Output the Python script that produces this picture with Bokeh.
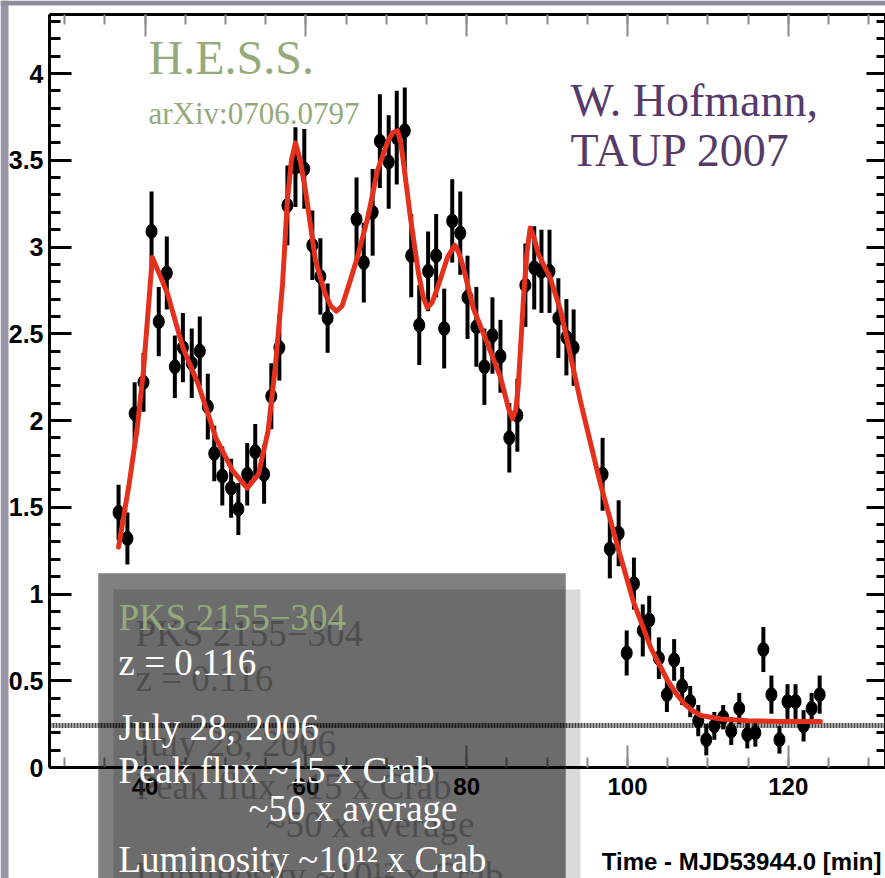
from bokeh.plotting import figure
from bokeh.models import (Range1d, LinearAxis, SingleIntervalTicker, BoxAnnotation, Label,
                          CustomJSTickFormatter, ColumnDataSource)
from bokeh.embed import file_html
from bokeh.resources import INLINE

# ---------------- data ----------------
time_min = [36.7, 37.8, 38.7, 39.8, 40.8, 41.7, 42.7, 43.7, 44.7, 45.8, 46.8, 47.8, 48.6,
            49.6, 50.7, 51.6, 52.7, 53.7, 54.8, 55.7, 56.7, 57.7, 58.7, 59.8, 60.8, 61.8, 62.7,
            66.3, 67.2, 68.3, 69.2, 70.3, 71.3, 72.3, 73.1, 74.1, 75.2, 76.2, 77.2, 78.2, 79.2,
            80.1, 81.2, 82.2, 83.2, 84.2, 85.3, 86.3, 87.3, 88.4, 89.3, 90.3, 91.4, 92.4, 93.3,
            96.9, 97.8, 98.9, 99.9, 100.8, 101.9, 102.7, 103.9, 104.9, 105.8, 106.8, 107.8,
            108.8, 109.8, 110.8, 111.9, 112.9, 113.9, 114.9, 115.9, 116.9, 117.9, 118.9, 119.9,
            120.9, 121.9, 122.9, 123.9]
flux = [1.47, 1.32, 2.04, 2.22, 3.09, 2.57, 2.85, 2.31, 2.42, 2.33, 2.40, 2.08, 1.81,
        1.68, 1.61, 1.49, 1.69, 1.82, 1.69, 2.14, 2.42, 3.24, 3.46, 3.45, 3.01, 2.83, 2.59,
        3.16, 2.91, 3.20, 3.61, 3.49, 3.63, 3.67, 2.95, 2.55, 2.86, 2.95, 2.53, 3.15, 3.08,
        2.71, 2.54, 2.31, 2.49, 2.37, 1.90, 2.03, 2.78, 2.88, 2.86, 2.86, 2.59, 2.48, 2.42,
        1.69, 1.26, 1.35, 0.66, 1.06, 0.79, 0.85, 0.63, 0.42, 0.62, 0.47, 0.38,
        0.27, 0.16, 0.24, 0.29, 0.21, 0.34, 0.19, 0.20, 0.68, 0.42, 0.16, 0.38,
        0.38, 0.24, 0.34, 0.42]
flux_err = [0.16, 0.15, 0.18, 0.17, 0.23, 0.20, 0.21, 0.18, 0.20, 0.20, 0.20, 0.19, 0.16,
            0.17, 0.17, 0.15, 0.18, 0.16, 0.17, 0.19, 0.19, 0.23, 0.23, 0.23, 0.20, 0.22, 0.20,
            0.24, 0.23, 0.25, 0.27, 0.27, 0.27, 0.25, 0.24, 0.23, 0.23, 0.24, 0.23, 0.24, 0.24,
            0.24, 0.23, 0.22, 0.22, 0.21, 0.20, 0.21, 0.24, 0.24, 0.24, 0.24, 0.23, 0.22, 0.22,
            0.21, 0.17, 0.19, 0.13, 0.15, 0.15, 0.14, 0.12, 0.10, 0.12, 0.11, 0.09,
            0.09, 0.09, 0.08, 0.07, 0.08, 0.09, 0.08, 0.08, 0.13, 0.11, 0.08, 0.10,
            0.10, 0.09, 0.09, 0.11]

# fitted model curve
fit_t = [36.7, 38.0, 39.0, 39.8, 40.9, 42.0, 42.8, 44.7, 46.6, 48.8, 50.9, 52.7, 54.1, 55.3,
         56.2, 57.1, 57.7, 58.2, 58.7, 59.3, 60.0, 61.2, 62.4, 63.1, 63.8, 64.5, 65.2, 66.4,
         67.7, 68.9, 70.2, 70.8, 71.4, 71.8, 72.1, 73.0, 74.0, 74.6, 75.1, 75.7, 76.4, 77.6,
         78.5, 79.0, 79.6, 80.8, 82.6, 84.2, 85.2, 85.7, 86.1, 86.4, 87.1, 87.5, 87.9, 88.4,
         88.9, 90.4, 91.7, 94.2, 96.6, 98.8, 100.7, 102.9, 105.0, 106.0, 107.0, 108.0, 109.1,
         111.6, 114.9, 119.0, 124.0]
fit_flux = [1.27, 1.63, 1.95, 2.29, 2.94, 2.82, 2.73, 2.42, 2.21, 1.90, 1.71, 1.61, 1.69, 1.94,
            2.31, 2.79, 3.27, 3.50, 3.60, 3.50, 3.31, 2.92, 2.73, 2.66, 2.63, 2.66, 2.76, 2.94,
            3.17, 3.44, 3.61, 3.66, 3.67, 3.60, 3.50, 3.17, 2.85, 2.71, 2.65, 2.68, 2.77, 2.94,
            3.01, 2.97, 2.88, 2.65, 2.44, 2.25, 2.07, 2.01, 2.06, 2.19, 2.73, 2.97, 3.11, 3.05,
            2.96, 2.82, 2.63, 2.10, 1.64, 1.27, 0.96, 0.69, 0.50, 0.43, 0.37, 0.33, 0.30,
            0.28, 0.27, 0.265, 0.265]

baseline_flux = 0.242
x_ticks_major = 20
y_ticks_major = 0.5

title_lines = ["H.E.S.S.", "arXiv:0706.0797"]
credit_lines = ["W. Hofmann,", "TAUP 2007"]
box_lines = ["PKS 2155\u2212304", "z = 0.116", "July 28, 2006", "Peak flux ~15 x Crab",
             "~50 x average", "Luminosity ~10\u00b9\u00b2 x Crab"]
x_title = "Time - MJD53944.0 [min]"

# ---------------- layout helpers (window pixel -> data) ----------------
def X(px):
    return 100 + (px - 627) / 8.04

def Y(py):
    return (767 - py) / 173.5

W, H = 885, 878
# axes box of the original chart
AX_L, AX_R = X(49), X(885)
AX_B, AX_T = 0.0, Y(14)

p = figure(width=W, height=H, output_backend="svg", toolbar_location=None,
           x_range=Range1d(X(0), X(W)), y_range=Range1d(Y(H), Y(0)),
           min_border=0, min_border_left=0, min_border_right=0,
           min_border_top=0, min_border_bottom=0)
p.grid.visible = False
p.outline_line_color = None
p.background_fill_color = "white"
p.border_fill_color = "white"

AX_FONT = "Liberation Sans"

# slide background strips (left and top)
p.add_layout(BoxAnnotation(left=X(0), right=X(8), top=Y(0), bottom=Y(H),
                           fill_color="#9896a6", fill_alpha=1, line_color=None,
                           level="underlay"))
p.add_layout(BoxAnnotation(left=X(0), right=X(W), top=Y(0), bottom=Y(5),
                           fill_color="#8f8d9c", fill_alpha=1, line_color=None,
                           level="underlay"))

# bottom axis drawn at flux = 0
xax = p.xaxis[0]
xax.fixed_location = AX_B
xax.bounds = (AX_L, AX_R)
xax.ticker = SingleIntervalTicker(interval=x_ticks_major, num_minor_ticks=4)
xax.axis_line_width = 3
xax.axis_line_color = "black"
xax.major_tick_in = 22
xax.major_tick_out = 0
xax.minor_tick_in = 10
xax.minor_tick_out = 0
xax.major_tick_line_color = "#8a8a8a"
xax.minor_tick_line_color = "#8a8a8a"
xax.major_tick_line_width = 2
xax.minor_tick_line_width = 2
xax.major_label_text_font = AX_FONT
xax.major_label_text_font_style = "bold"
xax.major_label_text_font_size = "24px"
xax.major_label_text_color = "black"
xax.major_label_standoff = 10

yax = p.yaxis[0]
yax.fixed_location = AX_L
yax.bounds = (AX_B, AX_T)
yax.ticker = SingleIntervalTicker(interval=y_ticks_major, num_minor_ticks=5)
yax.formatter = CustomJSTickFormatter(code="return String(Math.round(tick*10)/10)")
yax.axis_line_width = 3
yax.axis_line_color = "black"
yax.major_tick_in = 22
yax.major_tick_out = 0
yax.minor_tick_in = 11
yax.minor_tick_out = 0
yax.major_tick_line_width = 3
yax.minor_tick_line_width = 3
yax.major_tick_line_color = "black"
yax.minor_tick_line_color = "black"
yax.major_label_text_font = AX_FONT
yax.major_label_text_font_style = "bold"
yax.major_label_text_font_size = "25px"
yax.major_label_text_color = "black"
yax.major_label_text_baseline = "top"
yax.major_label_standoff = 6

empty = CustomJSTickFormatter(code="return ''")
top = LinearAxis(fixed_location=AX_T, bounds=(AX_L, AX_R),
                 ticker=SingleIntervalTicker(interval=x_ticks_major, num_minor_ticks=4),
                 formatter=empty, major_label_text_font_size="1px", major_label_standoff=0,
                 axis_line_width=3, axis_line_color="black",
                 major_tick_in=22, major_tick_out=0, minor_tick_in=10, minor_tick_out=0,
                 major_tick_line_color="#8a8a8a", minor_tick_line_color="#8a8a8a",
                 major_tick_line_width=2, minor_tick_line_width=2)
p.add_layout(top, "above")
right = LinearAxis(fixed_location=AX_R, bounds=(AX_B, AX_T),
                   ticker=SingleIntervalTicker(interval=y_ticks_major, num_minor_ticks=5),
                   formatter=empty, major_label_text_font_size="1px", major_label_standoff=0,
                   axis_line_width=3, axis_line_color="black",
                   major_tick_in=19, major_tick_out=0, minor_tick_in=9, minor_tick_out=0,
                   major_tick_line_color="black", minor_tick_line_color="black",
                   major_tick_line_width=3, minor_tick_line_width=3)
p.add_layout(right, "right")

# baseline (dotted) across the axes box
p.segment(x0=[AX_L], y0=[baseline_flux], x1=[AX_R], y1=[baseline_flux],
          line_color="#333333", line_width=5, line_dash="2 1", line_alpha=0.9)

src = ColumnDataSource(dict(t=time_min, f=flux,
                            lo=[f - e for f, e in zip(flux, flux_err)],
                            hi=[f + e for f, e in zip(flux, flux_err)]))
p.segment(x0="t", y0="lo", x1="t", y1="hi", source=src, line_color="black", line_width=4)
p.ellipse(x="t", y="f", width=11, height=14, width_units="screen", height_units="screen",
          source=src, fill_color="black", line_color="black")
p.line(fit_t, fit_flux, line_color="#e3311d", line_width=5, line_join="round", line_cap="round")

# x-axis title
p.add_layout(Label(x=X(881), y=Y(861), text=x_title, text_font=AX_FONT,
                   text_font_style="bold", text_font_size="24px", text_color="black",
                   text_align="right", text_baseline="alphabetic"))

# top-left and top-right texts
GREEN = "#95aa7b"
PURPLE = "#563a6a"
SERIF = "Liberation Serif"
p.add_layout(Label(x=X(148), y=Y(57), text=title_lines[0], text_font=SERIF,
                   text_font_size="48px", text_color=GREEN, text_baseline="alphabetic"))
p.add_layout(Label(x=X(148), y=Y(113), text=title_lines[1], text_font=SERIF,
                   text_font_size="31px", text_color=GREEN, text_baseline="alphabetic"))
p.add_layout(Label(x=X(570), y=Y(100), text=credit_lines[0], text_font=SERIF,
                   text_font_size="46px", text_color=PURPLE, text_baseline="alphabetic"))
p.add_layout(Label(x=X(570), y=Y(150), text=credit_lines[1], text_font=SERIF,
                   text_font_size="46px", text_color=PURPLE, text_baseline="alphabetic"))

# overlay boxes
p.add_layout(BoxAnnotation(left=X(113), right=X(580), top=Y(589), bottom=Y(H),
                           fill_color="black", fill_alpha=0.15, line_color=None))
p.add_layout(BoxAnnotation(left=X(98), right=X(565), top=Y(573), bottom=Y(H),
                           fill_color="black", fill_alpha=0.5, line_color="#5a5a5a",
                           line_width=1))

box_pos = [(118, 617), (118, 662), (118, 727), (118, 770), (248, 808), (118, 859)]
box_col = [GREEN, "white", "white", "white", "white", "white"]
for (bx, by), txt in zip(box_pos, box_lines):
    p.add_layout(Label(x=X(bx + 17), y=Y(by + 16), text=txt, text_font=SERIF,
                       text_font_size="37px", text_color="#3a3a3a", text_alpha=0.6,
                       text_baseline="alphabetic"))
for (bx, by), txt, col in zip(box_pos, box_lines, box_col):
    p.add_layout(Label(x=X(bx), y=Y(by), text=txt, text_font=SERIF,
                       text_font_size="37px", text_color=col, text_baseline="alphabetic"))

open("out.html", "w").write(file_html(p, INLINE))
